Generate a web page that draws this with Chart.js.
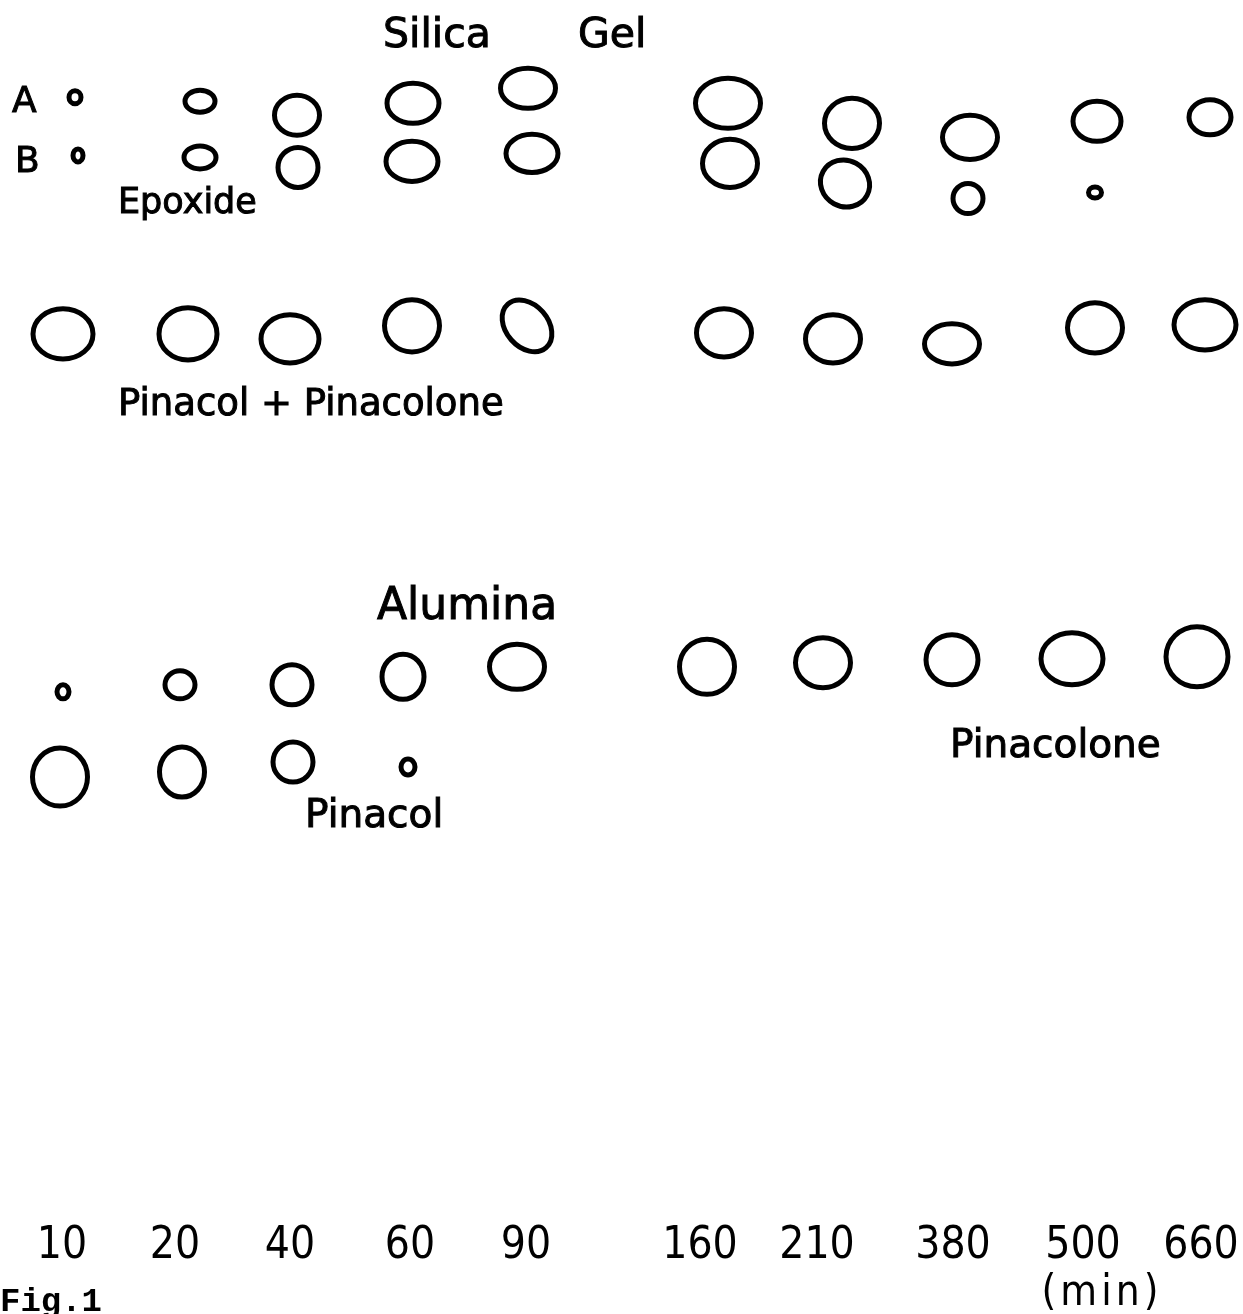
<!DOCTYPE html>
<html>
<head>
<meta charset="utf-8">
<script src="https://cdn.jsdelivr.net/npm/chart.js@4.4.1/dist/chart.umd.min.js"></script>
<style>
  html, body { margin: 0; padding: 0; background: #fff; }
</style>
</head>
<body>
<canvas id="myChart" width="1243" height="1314"></canvas>
<script>
const ctx = document.getElementById("myChart").getContext("2d");

// reaction time of each lane (min) and lane position on the plate (mm)
const minutes = ["10", "20", "40", "60", "90", "160", "210", "380", "500", "660"];
const lanePos = [6.2, 17.5, 29.0, 41.0, 52.6, 70.0, 81.7, 95.3, 108.3, 120.1];

// spots on the silica gel plate: x, y = centre (mm), w, h = spot size (mm)
const silicaA = [
  { x: 7.5, y: 111.7, w: 1.2, h: 1.3 },
  { x: 20.0, y: 111.3, w: 3.0, h: 2.2 },
  { x: 29.7, y: 109.9, w: 4.5, h: 4.0 },
  { x: 41.3, y: 111.1, w: 5.2, h: 4.0 },
  { x: 52.8, y: 112.6, w: 5.5, h: 4.0 },
  { x: 72.8, y: 111.1, w: 6.5, h: 5.0 },
  { x: 85.2, y: 109.1, w: 5.5, h: 5.0 },
  { x: 97.0, y: 107.7, w: 5.5, h: 4.4 },
  { x: 109.7, y: 109.3, w: 4.8, h: 4.0 },
  { x: 121.0, y: 109.7, w: 4.2, h: 3.5 },
];
const silicaB = [
  { x: 7.8, y: 105.9, w: 1.0, h: 1.3 },
  { x: 20.0, y: 105.7, w: 3.2, h: 2.3 },
  { x: 29.8, y: 104.7, w: 4.0, h: 4.0 },
  { x: 41.2, y: 105.3, w: 5.2, h: 4.0 },
  { x: 53.2, y: 106.1, w: 5.2, h: 3.8 },
  { x: 73.0, y: 105.1, w: 5.5, h: 4.8 },
  { x: 84.5, y: 103.1, w: 5.0, h: 4.6, t: 0.5 },
  { x: 96.8, y: 101.6, w: 3.0, h: 3.0 },
  { x: 109.5, y: 102.2, w: 1.3, h: 1.1 },
];
const silicaPin = [
  { x: 6.3, y: 88.1, w: 6.0, h: 5.0 },
  { x: 18.8, y: 88.1, w: 5.8, h: 5.2 },
  { x: 29.0, y: 87.6, w: 5.8, h: 4.8 },
  { x: 41.2, y: 88.9, w: 5.5, h: 5.2 },
  { x: 52.7, y: 88.9, w: 5.8, h: 4.2, t: 0.85 },
  { x: 72.4, y: 88.2, w: 5.5, h: 4.8 },
  { x: 83.3, y: 87.6, w: 5.5, h: 4.8 },
  { x: 95.2, y: 87.1, w: 5.5, h: 4.0 },
  { x: 109.5, y: 88.7, w: 5.5, h: 5.0 },
  { x: 120.5, y: 89.0, w: 6.2, h: 5.0 },
];

// spots on the alumina plate
const aluminaUpper = [
  { x: 6.3, y: 52.4, w: 1.2, h: 1.4 },
  { x: 18.0, y: 53.1, w: 3.0, h: 2.8 },
  { x: 29.2, y: 53.1, w: 4.0, h: 4.0 },
  { x: 40.3, y: 53.9, w: 4.2, h: 4.5 },
  { x: 51.7, y: 54.9, w: 5.5, h: 4.5 },
  { x: 70.7, y: 54.9, w: 5.5, h: 5.5 },
  { x: 82.3, y: 55.3, w: 5.5, h: 5.0 },
  { x: 95.2, y: 55.6, w: 5.2, h: 5.0 },
  { x: 107.2, y: 55.7, w: 6.2, h: 5.2 },
  { x: 119.7, y: 55.9, w: 6.2, h: 6.0 },
];
const aluminaLower = [
  { x: 6.0, y: 43.9, w: 5.5, h: 5.8 },
  { x: 18.2, y: 44.4, w: 4.5, h: 5.0 },
  { x: 29.3, y: 45.4, w: 4.0, h: 4.0 },
  { x: 40.8, y: 44.9, w: 1.4, h: 1.6 },
];

// text written on the figure (positions in plate mm)
const notes = [
  { text: "Silica", x: 38.3, y: 116.7, size: 41 },
  { text: "Gel", x: 57.8, y: 116.7, size: 41 },
  { text: "A", x: 1.2, y: 110.2, size: 36 },
  { text: "B", x: 1.5, y: 104.2, size: 36 },
  { text: "Epoxide", x: 11.8, y: 100.2, size: 35 },
  { text: "Pinacol + Pinacolone", x: 11.8, y: 80.0, size: 37 },
  { text: "Alumina", x: 37.7, y: 59.7, size: 44 },
  { text: "Pinacolone", x: 95.0, y: 45.9, size: 39 },
  { text: "Pinacol", x: 30.5, y: 38.9, size: 39 },
];

const sansFont = "'DejaVu Sans', 'Liberation Sans', sans-serif";
const narrowFont = "'Liberation Sans Narrow', 'DejaVu Sans Condensed', " + sansFont;

// draws every spot as an outlined ellipse sized in plate units
const spotPlugin = {
  id: "spotPlugin",
  afterDatasetsDraw(chart) {
    const { ctx, scales: { x, y } } = chart;
    ctx.save();
    ctx.strokeStyle = "#000";
    ctx.lineWidth = 5;
    chart.data.datasets.forEach((ds, i) => {
      const meta = chart.getDatasetMeta(i);
      meta.data.forEach((pt, j) => {
        const s = ds.data[j];
        const rx = Math.abs(x.getPixelForValue(s.x + s.w / 2) - pt.x);
        const ry = Math.abs(y.getPixelForValue(s.y + s.h / 2) - pt.y);
        ctx.beginPath();
        ctx.ellipse(pt.x, pt.y, rx, ry, s.t || 0, 0, 2 * Math.PI);
        ctx.stroke();
      });
    });

    // labels, with a thin outline so they read as heavy as the lettering
    ctx.fillStyle = "#000";
    ctx.lineWidth = 1;
    ctx.textBaseline = "alphabetic";
    ctx.textAlign = "left";
    notes.forEach((n) => {
      ctx.font = n.size + "px " + sansFont;
      const px = x.getPixelForValue(n.x);
      const py = y.getPixelForValue(n.y);
      ctx.fillText(n.text, px, py);
      ctx.strokeText(n.text, px, py);
    });

    // figure number and unit under the axis
    ctx.font = "bold 34px 'Liberation Mono', 'DejaVu Sans Mono', monospace";
    ctx.fillText("Fig.1", 0, chart.height - 3);
    ctx.font = "42px " + narrowFont;
    ctx.letterSpacing = "4px";
    ctx.textAlign = "center";
    ctx.fillText("(min)", x.getPixelForValue(110.2), chart.height - 9);
    ctx.restore();
  },
};

const makeSet = (label, data) => ({
  label,
  data,
  pointRadius: 0,
  pointHoverRadius: 0,
  showLine: false,
});

const myChart = new Chart(ctx, {
  type: "scatter",
  data: {
    datasets: [
      makeSet("A", silicaA),
      makeSet("B", silicaB),
      makeSet("Pinacol + Pinacolone", silicaPin),
      makeSet("Alumina upper", aluminaUpper),
      makeSet("Pinacol", aluminaLower),
    ],
  },
  options: {
    responsive: false,
    animation: false,
    layout: {
      padding: { top: 0, left: 0, right: 0, bottom: 38 },
    },
    scales: {
      x: {
        type: "linear",
        min: 0,
        max: 124.3,
        border: { display: false },
        grid: { display: false, drawTicks: false },
        afterBuildTicks(axis) {
          axis.ticks = lanePos.map((v) => ({ value: v }));
        },
        ticks: {
          autoSkip: false,
          maxRotation: 0,
          padding: 3,
          color: "#000",
          font: { size: 44, family: narrowFont },
          callback: (value, index) => minutes[index],
        },
      },
      y: {
        display: false,
        min: 0,
        max: 121.4,
      },
    },
    plugins: {
      legend: { display: false },
      tooltip: { enabled: false },
    },
  },
  plugins: [spotPlugin],
});
</script>
</body>
</html>
